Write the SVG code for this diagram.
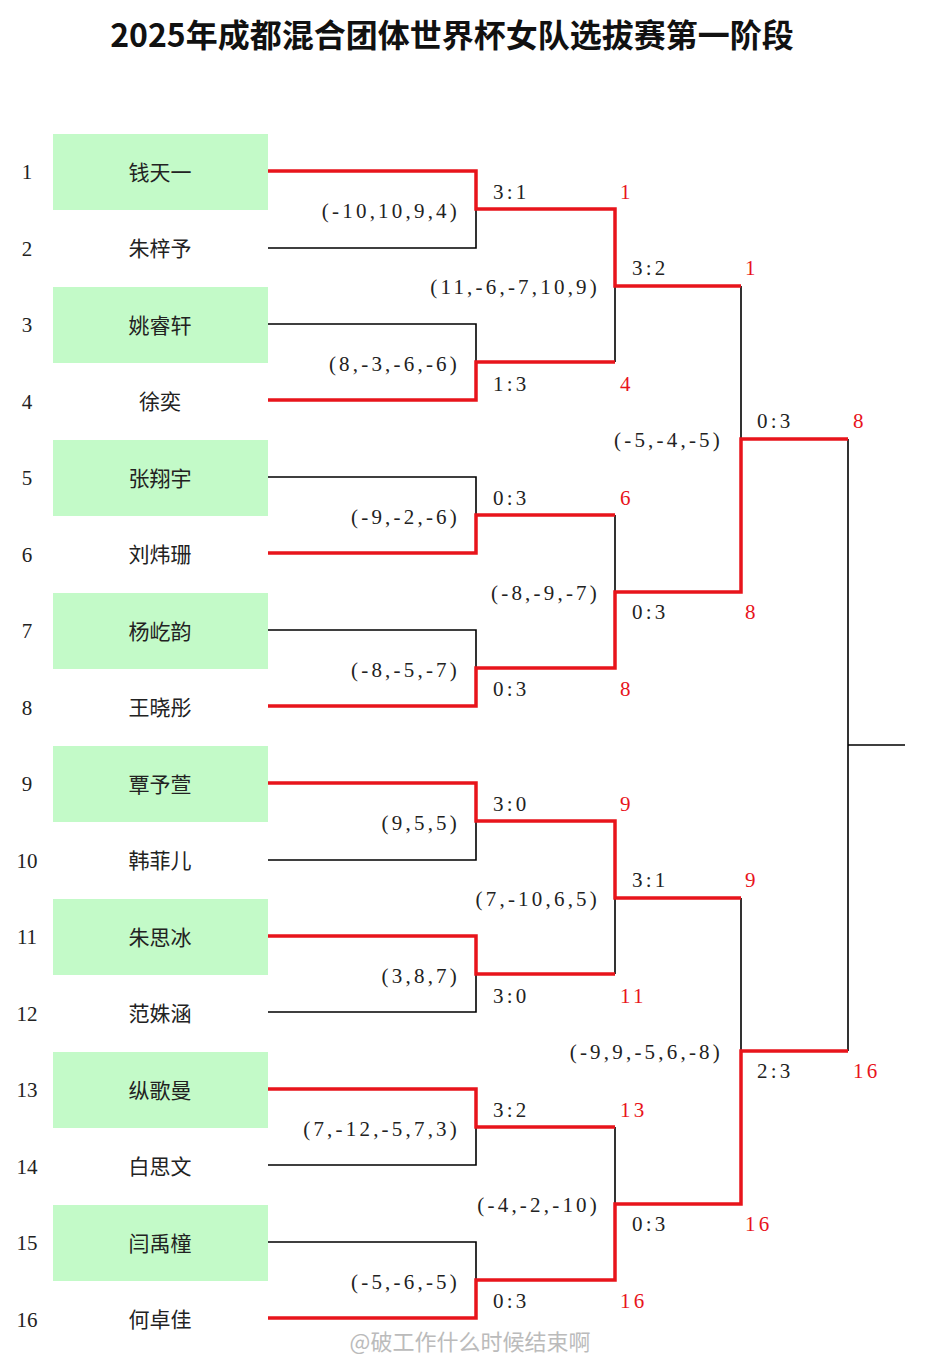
<svg xmlns="http://www.w3.org/2000/svg" width="940" height="1366" viewBox="0 0 940 1366">
<style>
.t{font-family:"Liberation Serif","Noto Sans CJK SC",serif;font-size:21px;fill:#222}
.n{font-family:"Noto Sans CJK SC",sans-serif;font-size:21px;fill:#222;text-anchor:middle}
.num{text-anchor:middle}
.r{font-family:"Liberation Serif",serif;font-size:21px;fill:#e8141b}
.d{text-anchor:end}
#labels text{letter-spacing:3.2px}
.b{stroke:#000;stroke-width:1.6;fill:none}
.red{stroke:#e8141b;stroke-width:3.5;fill:none}
.box{fill:#c3fac8}
</style>
<rect width="940" height="1366" fill="#fff"/>
<text x="452" y="47" font-family="Noto Sans CJK SC,sans-serif" font-size="32" font-weight="bold" text-anchor="middle" fill="#111">2025年成都混合团体世界杯女队选拔赛第一阶段</text>
<g id="players">
<g id="p1"><rect class="box" x="53" y="134" width="215" height="76"/><text class="t num" x="27" y="179">1</text><text class="n" x="160" y="180">钱天一</text></g>
<g id="p2"><text class="t num" x="27" y="256">2</text><text class="n" x="160" y="256">朱梓予</text></g>
<g id="p3"><rect class="box" x="53" y="287" width="215" height="76"/><text class="t num" x="27" y="332">3</text><text class="n" x="160" y="333">姚睿轩</text></g>
<g id="p4"><text class="t num" x="27" y="409">4</text><text class="n" x="160" y="409">徐奕</text></g>
<g id="p5"><rect class="box" x="53" y="440" width="215" height="76"/><text class="t num" x="27" y="485">5</text><text class="n" x="160" y="486">张翔宇</text></g>
<g id="p6"><text class="t num" x="27" y="562">6</text><text class="n" x="160" y="562">刘炜珊</text></g>
<g id="p7"><rect class="box" x="53" y="593" width="215" height="76"/><text class="t num" x="27" y="638">7</text><text class="n" x="160" y="639">杨屹韵</text></g>
<g id="p8"><text class="t num" x="27" y="715">8</text><text class="n" x="160" y="715">王晓彤</text></g>
<g id="p9"><rect class="box" x="53" y="746" width="215" height="76"/><text class="t num" x="27" y="791">9</text><text class="n" x="160" y="792">覃予萱</text></g>
<g id="p10"><text class="t num" x="27" y="868">10</text><text class="n" x="160" y="868">韩菲儿</text></g>
<g id="p11"><rect class="box" x="53" y="899" width="215" height="76"/><text class="t num" x="27" y="944">11</text><text class="n" x="160" y="945">朱思冰</text></g>
<g id="p12"><text class="t num" x="27" y="1021">12</text><text class="n" x="160" y="1021">范姝涵</text></g>
<g id="p13"><rect class="box" x="53" y="1052" width="215" height="76"/><text class="t num" x="27" y="1097">13</text><text class="n" x="160" y="1098">纵歌曼</text></g>
<g id="p14"><text class="t num" x="27" y="1174">14</text><text class="n" x="160" y="1174">白思文</text></g>
<g id="p15"><rect class="box" x="53" y="1205" width="215" height="76"/><text class="t num" x="27" y="1250">15</text><text class="n" x="160" y="1251">闫禹橦</text></g>
<g id="p16"><text class="t num" x="27" y="1327">16</text><text class="n" x="160" y="1327">何卓佳</text></g>
</g>
<g id="connectors">
<path class="b" d="M268 248H476V209M268 324H476V362M268 477H476V515M268 630H476V668M268 860H476V821M268 1012H476V974M268 1165H476V1127M268 1242H476V1280"/>
<path class="b" d="M615 286V362M615 515V592M615 898V974M615 1127V1204M741 286V439M741 898V1051M848 439V1051M848 745H905"/>
<path class="red" d="M268 171H476V209H615V286H741"/>
<path class="red" d="M268 400H476V362H615"/>
<path class="red" d="M268 553H476V515H615"/>
<path class="red" d="M268 706H476V668H615V592H741V439H848"/>
<path class="red" d="M268 783H476V821H615V898H741"/>
<path class="red" d="M268 936H476V974H615"/>
<path class="red" d="M268 1089H476V1127H615"/>
<path class="red" d="M268 1318H476V1280H615V1204H741V1051H848"/>
</g>
<g id="labels">
<text class="t" x="493" y="199">3:1</text><text class="t d" x="460" y="218">(-10,10,9,4)</text><text class="r" x="620" y="199">1</text>
<text class="t" x="493" y="391">1:3</text><text class="t d" x="460" y="371">(8,-3,-6,-6)</text><text class="r" x="620" y="391">4</text>
<text class="t" x="493" y="505">0:3</text><text class="t d" x="460" y="524">(-9,-2,-6)</text><text class="r" x="620" y="505">6</text>
<text class="t" x="493" y="696">0:3</text><text class="t d" x="460" y="677">(-8,-5,-7)</text><text class="r" x="620" y="696">8</text>
<text class="t" x="493" y="811">3:0</text><text class="t d" x="460" y="830">(9,5,5)</text><text class="r" x="620" y="811">9</text>
<text class="t" x="493" y="1003">3:0</text><text class="t d" x="460" y="983">(3,8,7)</text><text class="r" x="620" y="1003">11</text>
<text class="t" x="493" y="1117">3:2</text><text class="t d" x="460" y="1136">(7,-12,-5,7,3)</text><text class="r" x="620" y="1117">13</text>
<text class="t" x="493" y="1308">0:3</text><text class="t d" x="460" y="1289">(-5,-6,-5)</text><text class="r" x="620" y="1308">16</text>
<text class="t" x="632" y="275">3:2</text><text class="t d" x="600" y="294">(11,-6,-7,10,9)</text><text class="r" x="745" y="275">1</text>
<text class="t" x="632" y="619">0:3</text><text class="t d" x="600" y="600">(-8,-9,-7)</text><text class="r" x="745" y="619">8</text>
<text class="t" x="632" y="887">3:1</text><text class="t d" x="600" y="906">(7,-10,6,5)</text><text class="r" x="745" y="887">9</text>
<text class="t" x="632" y="1231">0:3</text><text class="t d" x="600" y="1212">(-4,-2,-10)</text><text class="r" x="745" y="1231">16</text>
<text class="t" x="757" y="428">0:3</text><text class="t d" x="723" y="447">(-5,-4,-5)</text><text class="r" x="853" y="428">8</text>
<text class="t" x="757" y="1078">2:3</text><text class="t d" x="723" y="1059">(-9,9,-5,6,-8)</text><text class="r" x="853" y="1078">16</text>
</g>
<text x="470" y="1350" font-family="Noto Sans CJK SC,sans-serif" font-size="22" fill="#bbb" text-anchor="middle">@破工作什么时候结束啊</text>
</svg>
